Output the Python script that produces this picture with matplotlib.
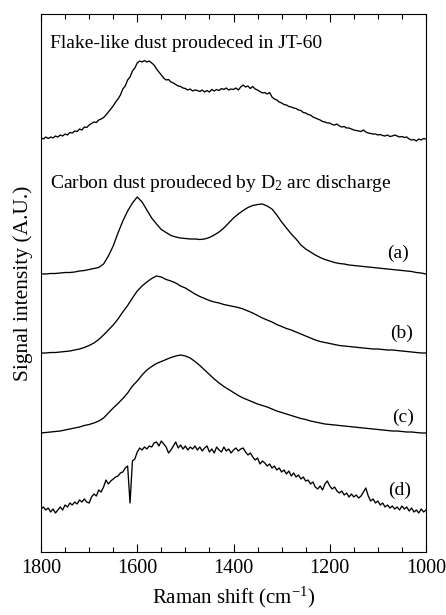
import numpy as np
import matplotlib
matplotlib.use("Agg")
import matplotlib.pyplot as plt
from matplotlib.ticker import MultipleLocator, NullLocator

plt.rcParams['font.family'] = ['Liberation Serif', 'DejaVu Serif']
plt.rcParams['mathtext.fontset'] = 'custom'
plt.rcParams['mathtext.rm'] = 'Liberation Serif'
plt.rcParams['mathtext.it'] = 'Liberation Serif:italic'

# Raman shift grids (cm^-1)
shift_fine = [1800, 1795, 1790, 1785, 1780, 1775, 1770, 1765, 1760, 1755, 1750, 1745, 1740, 1735, 1730, 1725,
              1720, 1715, 1710, 1705, 1700, 1695, 1690, 1685, 1680, 1675, 1670, 1665, 1660, 1655, 1650, 1645,
              1640, 1635, 1630, 1625, 1620, 1615, 1610, 1605, 1600, 1595, 1590, 1585, 1580, 1575, 1570, 1565,
              1560, 1555, 1550, 1545, 1540, 1535, 1530, 1525, 1520, 1515, 1510, 1505, 1500, 1495, 1490, 1485,
              1480, 1475, 1470, 1465, 1460, 1455, 1450, 1445, 1440, 1435, 1430, 1425, 1420, 1415, 1410, 1405,
              1400, 1395, 1390, 1385, 1380, 1375, 1370, 1365, 1360, 1355, 1350, 1345, 1340, 1335, 1330, 1325,
              1320, 1315, 1310, 1305, 1300, 1295, 1290, 1285, 1280, 1275, 1270, 1265, 1260, 1255, 1250, 1245,
              1240, 1235, 1230, 1225, 1220, 1215, 1210, 1205, 1200, 1195, 1190, 1185, 1180, 1175, 1170, 1165,
              1160, 1155, 1150, 1145, 1140, 1135, 1130, 1125, 1120, 1115, 1110, 1105, 1100, 1095, 1090, 1085,
              1080, 1075, 1070, 1065, 1060, 1055, 1050, 1045, 1040, 1035, 1030, 1025, 1020, 1015, 1010, 1005,
              1000]
shift_coarse = [1800, 1790, 1780, 1770, 1760, 1750, 1740, 1730, 1720, 1710, 1700, 1690, 1680, 1670, 1660, 1650,
                1640, 1630, 1620, 1610, 1600, 1590, 1580, 1570, 1560, 1550, 1540, 1530, 1520, 1510, 1500, 1490,
                1480, 1470, 1460, 1450, 1440, 1430, 1420, 1410, 1400, 1390, 1380, 1370, 1360, 1350, 1340, 1330,
                1320, 1310, 1300, 1290, 1280, 1270, 1260, 1250, 1240, 1230, 1220, 1210, 1200, 1190, 1180, 1170,
                1160, 1150, 1140, 1130, 1120, 1110, 1100, 1090, 1080, 1070, 1060, 1050, 1040, 1030, 1020, 1010,
                1000]

# Spectra (stacked, arbitrary units)
flake_jt60 = [414, 413, 415, 413.5, 415, 414, 416, 415, 417, 416, 418, 417, 419.5, 419, 421, 420.5,
              423, 422, 425, 424.5, 427, 428.5, 430, 429.5, 432, 433, 434.5, 437, 440, 443, 446, 450,
              453, 457, 463, 466, 472, 475, 481, 484, 489, 491, 490, 491.5, 490, 491, 489, 487,
              483, 480, 477, 474, 472, 472.5, 470, 469, 467.5, 466, 465.5, 464, 463.5, 462, 463, 461,
              462, 461.5, 460.5, 462, 460, 461.5, 460, 462.5, 461, 462.5, 461.5, 463.5, 462.5, 464, 462, 463,
              462.5, 464, 462, 465, 467, 465, 466, 463.5, 465.5, 463, 462, 460.5, 459, 459.5, 458, 459.5,
              455, 453, 452, 450, 449, 447.5, 447, 445.5, 445, 444, 443.5, 442, 441.5, 439.5, 439, 437.5,
              437, 435, 434, 433, 432, 430.5, 430, 429, 429, 427.5, 427, 428, 426, 425, 425.5, 424,
              424, 423, 422, 421.5, 421, 420.5, 422, 420, 419, 418.5, 418, 418, 417, 417.5, 416.5, 416,
              417, 415.5, 416, 417, 416, 415, 415.5, 414.5, 415, 413, 412, 412.5, 411, 413, 412, 413.5,
              413]

sample_a = [278, 278, 278.5, 278.5, 279, 279.5, 279.5, 280, 281, 281.5, 282.5, 283.5, 284.5, 288, 296, 306,
            319, 331, 341, 349, 355, 350, 342, 334, 328, 322.5, 319.5, 316.5, 315, 314, 313.5, 313,
            313, 312.5, 313, 314.5, 317, 320, 324, 329, 334, 338, 341.5, 344.5, 346.5, 347.5, 348, 346,
            343, 337, 330, 324, 318, 313, 307, 303, 300, 297, 294.5, 292.5, 291, 289.5, 288.5, 288,
            287, 286.5, 286, 285.5, 285, 284.5, 284, 283.5, 283, 282.5, 282, 281.5, 281, 280.5, 279.5, 279,
            278]

sample_b = [199, 199, 199.5, 199.5, 200, 200.5, 201, 202, 203, 204.5, 206.5, 209, 212.5, 217, 222, 227,
            233, 240, 246.5, 254, 261, 266, 270, 273.5, 276, 275, 272.5, 271, 269, 266, 264, 261,
            258, 255.5, 253.5, 251.5, 250, 249, 247.5, 246.5, 245.5, 244.5, 243, 241, 239, 236.5, 234, 232,
            230, 227.5, 225.5, 223.5, 222, 220, 218, 216, 214, 212, 210.5, 209.5, 208.5, 207.5, 206.5, 206,
            205.5, 205, 204.5, 204, 203.5, 203, 203, 202.5, 202, 202, 201.5, 201, 200.5, 200, 199.5, 199,
            199]

sample_c = [119, 119.5, 120, 120.5, 121, 122, 123, 124, 125, 126.5, 127.5, 129, 131, 134, 139, 144,
            148.5, 153.5, 159, 166, 171, 177, 182, 185.5, 188.5, 190.5, 192.5, 194.5, 196, 197, 196, 194,
            190.5, 186.5, 182, 177.5, 173, 169, 165.5, 162.5, 159.5, 156.5, 154, 152, 150, 148, 146.5, 145,
            143, 141, 139.5, 138, 136.5, 135, 133.5, 132.5, 131, 130, 129, 128, 127.5, 127, 126.5, 126,
            125.5, 125, 124.5, 124, 123.5, 123, 122.5, 122, 121.5, 121, 121, 120.5, 120, 120, 119.5, 119,
            119]

sample_d = [43, 45, 42, 44, 40, 43, 39, 42, 45, 42, 47, 45, 49, 47, 50, 48,
            52, 50, 53, 50, 49, 55, 58, 56, 62, 60, 65, 72, 68, 71, 73, 75,
            76, 79, 80, 84, 86, 49, 91, 93, 100, 104, 102, 105, 103, 106, 105, 109,
            110, 106, 111, 108, 105, 99, 102, 106, 110, 104, 107, 103, 106, 102, 105, 103,
            106, 102, 105, 101, 104, 106, 100, 103, 99, 105, 102, 100, 105, 101, 103, 99,
            102, 104, 101, 103, 104, 100, 97, 99, 95, 92, 94, 88, 91, 89, 86, 88,
            84, 86, 82, 84, 80, 82, 78, 81, 76, 79, 75, 77, 73, 75, 71, 72,
            68, 70, 65, 63, 66, 62, 68, 71, 66, 63, 65, 61, 59, 61, 57, 59,
            55, 58, 55, 57, 54, 56, 60, 64, 56, 51, 53, 49, 51, 47, 49, 45,
            47, 44, 46, 43, 45, 42, 46, 43, 45, 41, 44, 40, 42, 39, 43, 40,
            42]

curve_labels = ['(a)', '(b)', '(c)', '(d)']
title_top = 'Flake-like dust proudeced in JT-60'
title_mid = 'Carbon dust proudeced by D$_2$ arc discharge'

fig = plt.figure(figsize=(4.46, 6.15), dpi=100)
ax = fig.add_axes([41/446, 1 - 552/615, 385/446, 538/615])

lw = 0.95
ax.plot(shift_fine, flake_jt60, color='black', lw=lw)
ax.plot(shift_coarse, sample_a, color='black', lw=lw)
ax.plot(shift_coarse, sample_b, color='black', lw=lw)
ax.plot(shift_coarse, sample_c, color='black', lw=lw)
ax.plot(shift_fine, sample_d, color='black', lw=lw)

ax.set_xlim(1800, 1000)
ax.set_ylim(0, 538)

ax.xaxis.set_major_locator(MultipleLocator(200))
ax.xaxis.set_minor_locator(MultipleLocator(50))
ax.yaxis.set_major_locator(NullLocator())
ax.yaxis.set_minor_locator(NullLocator())
ax.tick_params(axis='x', which='both', direction='in', top=True, bottom=True, width=0.8)
ax.tick_params(axis='x', which='major', length=6, labelsize=14.5, pad=5)
ax.tick_params(axis='x', which='minor', length=3.5)
for s in ax.spines.values():
    s.set_linewidth(0.8)

ax.set_xlabel('Raman shift (cm$^{-1}$)', fontsize=15, labelpad=5)
ax.set_ylabel('Signal intensity (A.U.)', fontsize=15.5, labelpad=6)

ax.text(1781, 504, title_top, fontsize=14, ha='left', va='baseline')
ax.text(1781, 364, title_mid, fontsize=14, ha='left', va='baseline')

label_x = [1058, 1050, 1048, 1054]
label_y = [299, 219, 135, 62]
for lx, ly, t in zip(label_x, label_y, curve_labels):
    ax.text(lx, ly, t, fontsize=14, ha='center', va='center')

fig.savefig('out.png', dpi=100)
